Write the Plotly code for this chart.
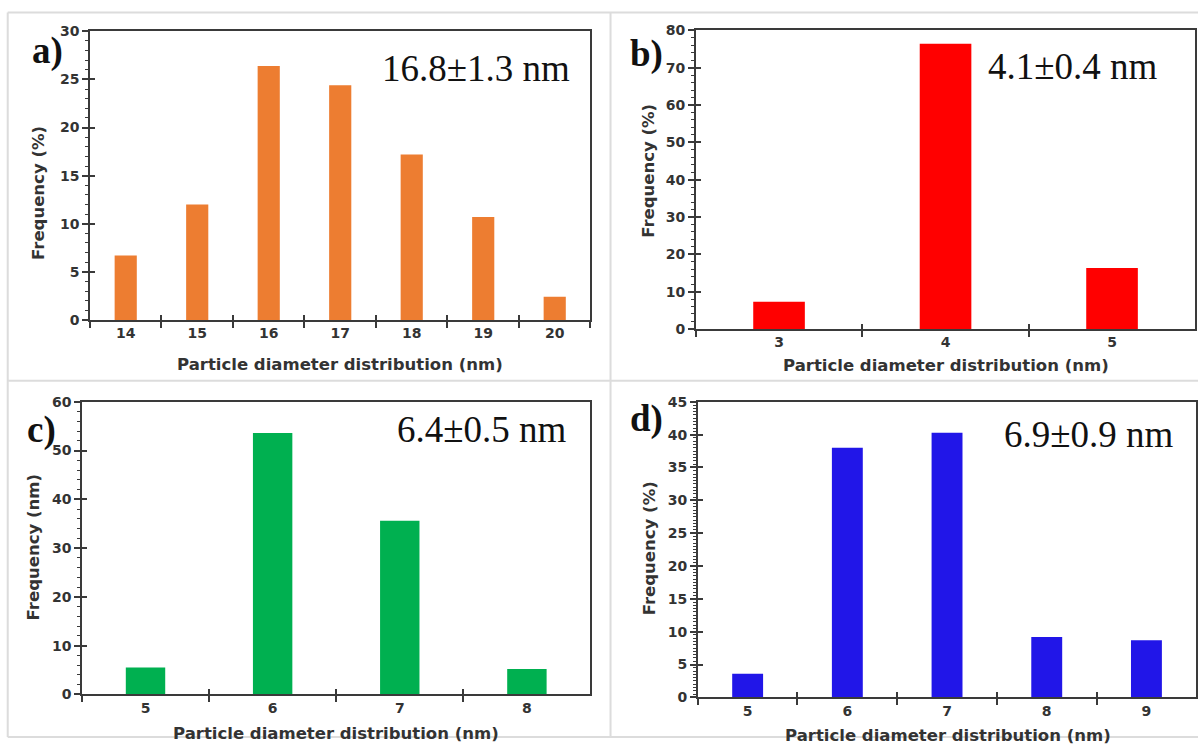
import plotly.graph_objects as go

W, H = 1198, 745

# ---- data ----
cats_a = ["14", "15", "16", "17", "18", "19", "20"]
freq_a = [6.7, 12.0, 26.4, 24.4, 17.2, 10.7, 2.4]

cats_b = ["3", "4", "5"]
freq_b = [7.3, 76.4, 16.3]

cats_c = ["5", "6", "7", "8"]
freq_c = [5.5, 53.6, 35.6, 5.2]

cats_d = ["5", "6", "7", "8", "9"]
freq_d = [3.6, 38.0, 40.3, 9.2, 8.7]

panel_labels = ["a)", "b)", "c)", "d)"]
size_labels = ["16.8±1.3 nm", "4.1±0.4 nm", "6.4±0.5 nm", "6.9±0.9 nm"]
y_titles = ["Frequency (%)", "Frequency (%)", "Frequency (nm)", "Frequency (%)"]
x_title = "Particle diameter distribution (nm)"


def px(x):
    return min(1.0, max(0.0, ((x - 0.3) / 0.997) / W))


def py(y):
    return min(1.0, max(0.0, 1 - ((y - 6.6) / 0.98) / H))


colors = ["#ED7D31", "#FF0000", "#00B050", "#2116E8"]
cats = [cats_a, cats_b, cats_c, cats_d]
freqs = [freq_a, freq_b, freq_c, freq_d]

# plot-area boxes in pixels: (left, right, top, bottom)
boxes = [(90, 589, 30, 319), (694, 1192, 29, 328), (82, 589, 401, 694), (696, 1193, 401, 697)]
yranges = [30, 80, 60, 45]
ydticks = [5, 10, 10, 5]
yminor = [1, 2, 2, 0.5]

fig = go.Figure()
AX = "#3a3a3a"
SANS = "DejaVu Sans"
tickfont = dict(family=SANS, size=14, color="#333333", weight="bold")

for i in range(4):
    sfx = "" if i == 0 else str(i + 1)
    osfx = str(i + 5)
    fig.add_trace(go.Bar(x=cats[i], y=freqs[i], marker=dict(color=colors[i], line=dict(width=0)),
                         xaxis="x" + sfx, yaxis="y" + sfx, showlegend=False))
    # invisible twin used only to draw inward tick marks (crossing ticks)
    fig.add_trace(go.Bar(x=cats[i], y=freqs[i], marker=dict(color=colors[i], opacity=0, line=dict(width=0)),
                         xaxis="x" + osfx, yaxis="y" + osfx, showlegend=False, hoverinfo="skip"))
    l, r, t, b = boxes[i]
    fig.layout["xaxis" + sfx] = dict(
        domain=[px(l), px(r)], anchor="y" + sfx, type="category",
        showline=True, mirror=True, linecolor=AX, linewidth=1.5,
        ticks="outside", tickson="boundaries", ticklen=6, tickwidth=1.5, tickcolor=AX,
        tickfont=tickfont, showgrid=False, zeroline=False, fixedrange=True,
    )
    fig.layout["yaxis" + sfx] = dict(
        domain=[py(b), py(t)], anchor="x" + sfx, range=[0, yranges[i]],
        dtick=ydticks[i], tick0=0,
        showline=True, mirror=True, linecolor=AX, linewidth=1.5,
        ticks="outside", ticklen=6, tickwidth=1.5, tickcolor=AX,
        minor=dict(dtick=yminor[i], ticks="outside", ticklen=3, tickcolor=AX, tickwidth=1),
        tickfont=tickfont, showgrid=False, zeroline=False, fixedrange=True,
    )
    fig.layout["xaxis" + osfx] = dict(
        overlaying="x" + sfx, anchor="y" + sfx, type="category", side="bottom",
        showline=False, ticks="inside", tickson="boundaries", ticklen=5, tickwidth=1.5, tickcolor=AX,
        showticklabels=False, showgrid=False, zeroline=False, fixedrange=True,
    )
    fig.layout["yaxis" + osfx] = dict(
        overlaying="y" + sfx, anchor="x" + sfx, side="left", range=[0, yranges[i]],
        dtick=ydticks[i], tick0=0,
        showline=False, ticks="inside", ticklen=5, tickwidth=1.5, tickcolor=AX,
        showticklabels=False, showgrid=False, zeroline=False, fixedrange=True,
    )

annotations = []
# value labels (Times-like)
val_pos = [(379, 67), (983, 65), (394, 429), (999, 434)]
for (x, y), txt in zip(val_pos, size_labels):
    annotations.append(dict(x=px(x), y=py(y), xref="paper", yref="paper", text=txt, showarrow=False,
                            xanchor="left", yanchor="middle",
                            font=dict(family="Liberation Serif", size=37, color="#111111")))
# panel letters
lab_pos = [(30, 50), (626, 53), (25, 429), (626, 418)]
for (x, y), txt in zip(lab_pos, panel_labels):
    annotations.append(dict(x=px(x), y=py(y), xref="paper", yref="paper", text=txt, showarrow=False,
                            xanchor="left", yanchor="middle",
                            font=dict(family="Liberation Serif", size=37, color="#111111", weight="bold")))
# y titles
yt_pos = [(38, 192), (647, 170), (34, 547), (648, 548)]
for (x, y), txt in zip(yt_pos, y_titles):
    annotations.append(dict(x=px(x), y=py(y), xref="paper", yref="paper", text=txt, showarrow=False,
                            textangle=-90, xanchor="center", yanchor="middle",
                            font=dict(family=SANS, size=16.5, color="#333333", weight="bold")))
# x titles
xt_pos = [(339, 364), (943, 365), (335, 733), (945, 735)]
for (x, y) in xt_pos:
    annotations.append(dict(x=px(x), y=py(y), xref="paper", yref="paper", text=x_title, showarrow=False,
                            xanchor="center", yanchor="middle",
                            font=dict(family=SANS, size=16.5, color="#333333", weight="bold")))

shapes = []
BC = "#dcdcdc"
for x in (8, 609):
    shapes.append(dict(type="line", xref="paper", yref="paper", x0=px(x), x1=px(x), y0=py(11), y1=0,
                       line=dict(color=BC, width=2)))
for y in (11, 380, 743):
    shapes.append(dict(type="line", xref="paper", yref="paper", x0=px(8), x1=1, y0=py(y), y1=py(y),
                       line=dict(color=BC, width=2)))

fig.update_layout(
    width=W, height=H, margin=dict(l=0, r=0, t=0, b=0),
    paper_bgcolor="white", plot_bgcolor="white",
    bargap=0.69, annotations=annotations, shapes=shapes,
)

post = (
    "document.documentElement.style.margin='0';"
    "document.documentElement.style.padding='0';"
    "document.body.style.margin='0';"
    "document.body.style.padding='0';"
    "document.body.style.overflow='hidden';"
)

fig.write_html("out.html", post_script=post, config={"displayModeBar": False})
